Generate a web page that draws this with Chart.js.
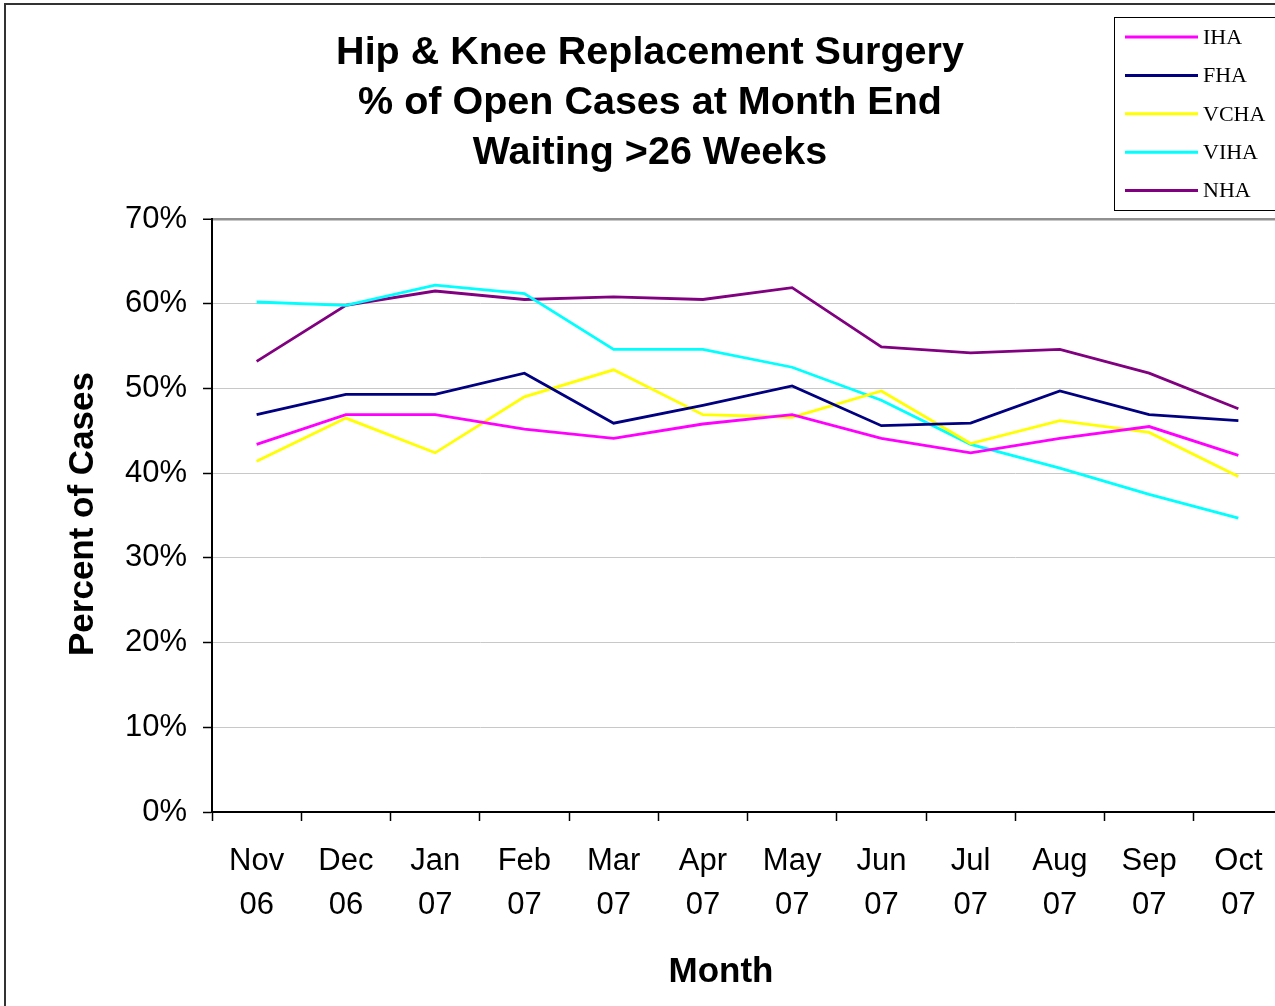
<!DOCTYPE html>
<html>
<head>
<meta charset="utf-8">
<script src="https://cdn.jsdelivr.net/npm/chart.js@4/dist/chart.umd.min.js"></script>
<style>
  html, body { margin: 0; padding: 0; background: #fff; overflow: hidden; }
  #canvas { display: block; }
</style>
</head>
<body>
<canvas id="canvas" width="1290" height="1006"></canvas>
<script>
// month labels (two lines each)
const months = [["Nov", "06"], ["Dec", "06"], ["Jan", "07"], ["Feb", "07"], ["Mar", "07"], ["Apr", "07"],
                ["May", "07"], ["Jun", "07"], ["Jul", "07"], ["Aug", "07"], ["Sep", "07"], ["Oct", "07"]]

// % of open cases waiting > 26 weeks
const iha  = [43.4, 46.9, 46.9, 45.2, 44.1, 45.8, 46.9, 44.1, 42.4, 44.1, 45.5, 42.1]
const fha  = [46.9, 49.3, 49.3, 51.8, 45.9, 48.0, 50.3, 45.6, 45.9, 49.7, 46.9, 46.2]
const vcha = [41.4, 46.5, 42.4, 49.0, 52.2, 46.9, 46.6, 49.7, 43.5, 46.2, 44.8, 39.6]
const viha = [60.2, 59.8, 62.2, 61.2, 54.6, 54.6, 52.5, 48.6, 43.4, 40.6, 37.5, 34.7]
const nha  = [53.2, 59.8, 61.5, 60.5, 60.8, 60.5, 61.9, 54.9, 54.2, 54.6, 51.8, 47.6]

const titleLines = ["Hip & Knee Replacement Surgery", "% of Open Cases at Month End", "Waiting >26 Weeks"]

// background, outer frame, titles and legend box
const decorations = {
    id: "decorations",
    beforeDraw(chart) {
        const c = chart.ctx
        c.save()
        c.fillStyle = "#fff"
        c.fillRect(0, 0, chart.width, chart.height)
        c.strokeStyle = "#333"
        c.lineWidth = 2
        c.strokeRect(5, 4, 1400, 1100)
        c.restore()
    },
    afterDraw(chart) {
        const c = chart.ctx
        c.save()
        c.fillStyle = "#000"
        c.textAlign = "center"
        c.textBaseline = "middle"
        c.font = "bold 39.5px 'Liberation Sans', Arial, sans-serif"
        titleLines.forEach((line, i) => c.fillText(line, 650, 53 + i * 50))

        // axis titles
        c.font = "bold 35px 'Liberation Sans', Arial, sans-serif"
        c.fillText("Month", 721, 972)
        c.translate(83, 514)
        c.rotate(-Math.PI / 2)
        c.fillText("Percent of Cases", 0, 0)
        c.restore()

        // legend
        c.save()
        c.fillStyle = "#fff"
        c.fillRect(1114.5, 17.5, 200, 193)
        c.strokeStyle = "#000"
        c.lineWidth = 1
        c.strokeRect(1114.5, 17.5, 200, 193)
        c.font = "22px 'Liberation Serif', 'Times New Roman', serif"
        c.textAlign = "left"
        c.textBaseline = "middle"
        chart.data.datasets.forEach((ds, i) => {
            const y = 37 + i * 38.4
            c.strokeStyle = ds.borderColor
            c.lineWidth = 3
            c.beginPath()
            c.moveTo(1125, y)
            c.lineTo(1198, y)
            c.stroke()
            c.fillStyle = "#000"
            c.fillText(ds.label, 1203, y + 1)
        })
        c.restore()
    }
}

const makeLine = (label, data, color) => ({
    label: label,
    data: data,
    borderColor: color,
    backgroundColor: color,
    borderWidth: 2.8,
    pointRadius: 0,
    tension: 0,
    fill: false
})

const target = document.querySelector("#canvas")
const myLineChart = new Chart(target, {
    type: "line",
    data: {
        labels: months,
        datasets: [
            makeLine("IHA", iha, "#ff00ff"),
            makeLine("FHA", fha, "#000080"),
            makeLine("VCHA", vcha, "#ffff00"),
            makeLine("VIHA", viha, "#00ffff"),
            makeLine("NHA", nha, "#800080")
        ]
    },
    options: {
        responsive: false,
        animation: false,
        devicePixelRatio: 1,
        layout: { padding: { top: 219, right: 7, left: 0, bottom: 0 } },
        plugins: {
            legend: { display: false },
            title: { display: false },
            tooltip: { enabled: false }
        },
        scales: {
            x: {
                offset: true,
                grid: {
                    offset: true,
                    drawOnChartArea: false,
                    drawTicks: true,
                    tickLength: 9,
                    tickColor: "#000",
                    tickWidth: 1.5
                },
                border: { color: "#000", width: 2 },
                ticks: {
                    color: "#000",
                    padding: 18,
                    maxRotation: 0,
                    autoSkip: false,
                    font: { family: "'Liberation Sans', Arial, sans-serif", size: 31, lineHeight: 1.42 }
                },
                afterFit: (scale) => { scale.height = 194 }
            },
            y: {
                min: 0,
                max: 70,
                grid: {
                    color: (ctx) => ctx.tick && ctx.tick.value === 70 ? "#909090" : "#c8c8c8",
                    lineWidth: (ctx) => ctx.tick && ctx.tick.value === 70 ? 2.5 : 1,
                    tickLength: 9,
                    tickColor: "#000",
                    tickWidth: 1.5
                },
                border: { color: "#000", width: 2 },
                ticks: {
                    stepSize: 10,
                    color: "#000",
                    padding: 16,
                    callback: (v) => v + "%",
                    font: { family: "'Liberation Sans', Arial, sans-serif", size: 31 }
                },
                afterFit: (scale) => { scale.width = 212 }
            }
        }
    },
    plugins: [decorations]
})
</script>
</body>
</html>
